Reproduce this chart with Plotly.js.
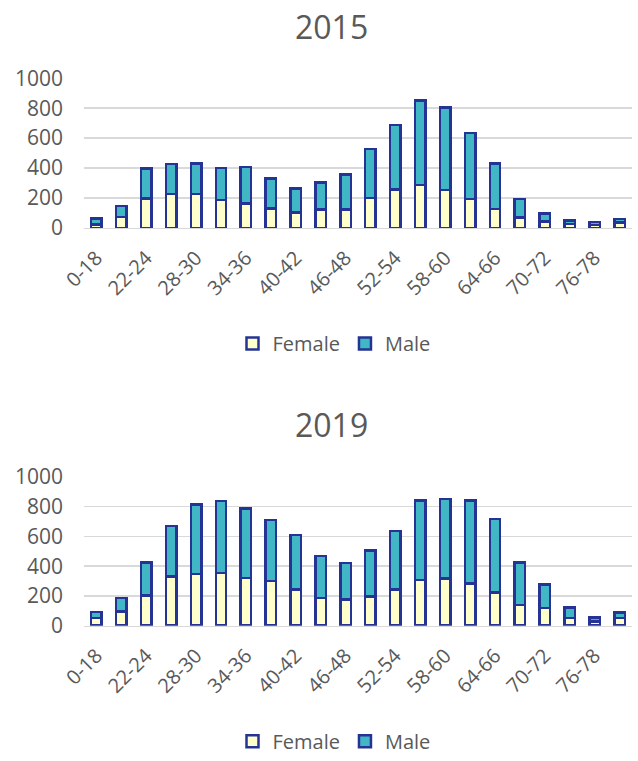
<!DOCTYPE html>
<html>
<head>
<meta charset="utf-8">
<script src="https://cdn.plot.ly/plotly-3.0.1.min.js"></script>
<style>html,body{margin:0;padding:0;background:#fff;}#chart{width:638px;height:761px;}</style>
</head>
<body>
<div id="chart"></div>
<script>
const categories = ["0-18","19-21","22-24","25-27","28-30","31-33","34-36","37-39","40-42","43-45","46-48","49-51","52-54","55-57","58-60","61-63","64-66","67-69","70-72","73-75","76-78","79+"];
const tickLabels = ["0-18","22-24","28-30","34-36","40-42","46-48","52-54","58-60","64-66","70-72","76-78"];
const female2015 = [24,73,197,228,228,188,164,131,102,122,122,199,257,288,252,195,126,71,44,27,20,35];
const male2015   = [40,73,199,199,203,212,243,199,161,183,236,328,431,562,553,438,305,124,53,24,20,25];
const female2019 = [53,96,202,331,349,353,322,300,242,187,176,196,244,307,318,284,222,138,120,53,27,51];
const male2019   = [40,91,222,340,467,485,465,411,367,282,244,311,394,535,535,558,496,286,158,69,29,38];
const titles = ["2015","2019"];
const seriesNames = ["Female","Male"];

const femaleColor = "#FFFFCC", maleColor = "#41B6C4", edge = "#253494";
const textGray = "#595959", gridGray = "#D9D9D9";
const H = 761, W = 638;
const py = v => 1 - v / H;
const px = v => v / W;

function bar(name, y, color, xa, ya, leg) {
  return {type: "bar", name: name, x: categories, y: y, xaxis: xa, yaxis: ya, legend: leg,
    marker: {color: color, line: {color: edge, width: 2.5}}, hoverinfo: "skip"};
}
const data = [
  bar(seriesNames[0], female2015, femaleColor, "x", "y", "legend"),
  bar(seriesNames[1], male2015, maleColor, "x", "y", "legend"),
  bar(seriesNames[0], female2019, femaleColor, "x2", "y2", "legend2"),
  bar(seriesNames[1], male2019, maleColor, "x2", "y2", "legend2")
];
const font = {family: "Open Sans, sans-serif", color: textGray};
function xaxis(anchor) {
  return {domain: [px(84), px(632)], anchor: anchor, type: "category",
    tickvals: tickLabels, ticktext: tickLabels, tickangle: -45,
    tickfont: {size: 20, color: textGray, family: "Open Sans"}, showgrid: false,
    showline: true, linecolor: gridGray, linewidth: 1.5, ticks: "", ticklabelstandoff: 9,
    automargin: false, fixedrange: true};
}
function yaxis(anchor, bottom, top) {
  return {domain: [py(bottom), py(top)], anchor: anchor, range: [0, 1000], dtick: 200,
    tickfont: {size: 21, color: textGray, family: "Open Sans"}, showgrid: true, gridcolor: gridGray,
    gridwidth: 1.5, zeroline: false, showline: false, ticks: "", ticklabelstandoff: 20,
    automargin: false, fixedrange: true};
}
const legendBase = {orientation: "h", xanchor: "center", yanchor: "middle", x: px(334),
  font: {size: 20, color: textGray, family: "Open Sans"}, bgcolor: "rgba(0,0,0,0)", itemclick: false,
  traceorder: "normal"};
const layout = {
  width: W, height: H, margin: {l: 0, r: 0, t: 0, b: 0},
  paper_bgcolor: "#fff", plot_bgcolor: "#fff", font: font,
  barmode: "stack", bargap: 0.58, showlegend: true,
  xaxis: xaxis("y"), yaxis: yaxis("x", 231, 79.3),
  xaxis2: xaxis("y2"), yaxis2: yaxis("x2", 634, 483.3),
  legend: Object.assign({}, legendBase, {y: py(348)}),
  legend2: Object.assign({}, legendBase, {y: py(751)}),
  annotations: [
    {text: titles[0], xref: "paper", yref: "paper", x: px(331), y: py(27), showarrow: false,
     xanchor: "center", yanchor: "middle", font: {size: 32, color: textGray, family: "Open Sans"}},
    {text: titles[1], xref: "paper", yref: "paper", x: px(331), y: py(430), showarrow: false,
     xanchor: "center", yanchor: "middle", font: {size: 32, color: textGray, family: "Open Sans"}}
  ]
};
Plotly.newPlot("chart", data, layout, {displayModeBar: false, staticPlot: true});
</script>
</body>
</html>
